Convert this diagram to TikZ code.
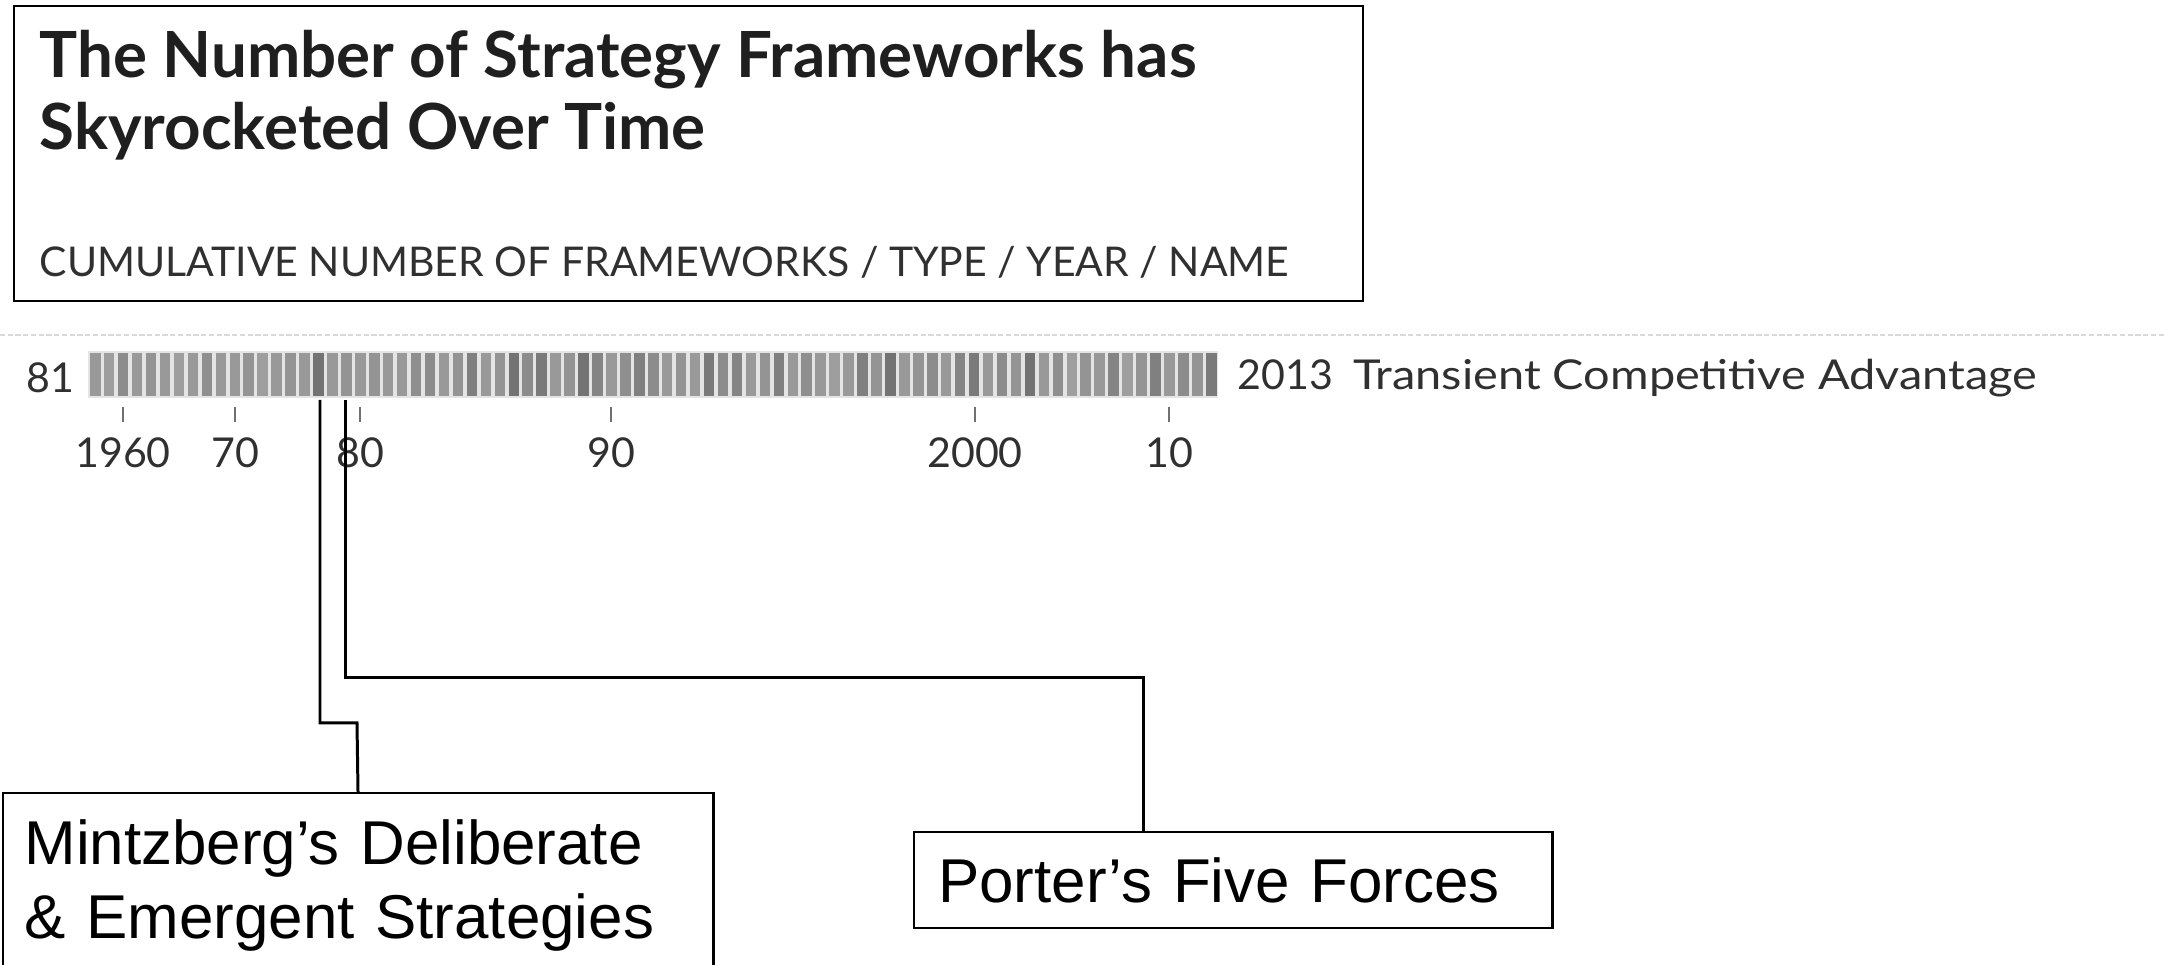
\documentclass[tikz,border=0pt]{standalone}
\usepackage{fontspec}
\setmainfont{Lato}
\newfontfamily\widefont[FakeStretch=1.14]{Lato}
\newfontfamily\boxfont{Liberation Sans}
\usetikzlibrary{positioning}
\definecolor{BarLight}{HTML}{E4E4E4}
\definecolor{RuleGray}{HTML}{D9D9D9}
\definecolor{InkGray}{HTML}{303030}
\definecolor{TickGray}{HTML}{707070}

\begin{document}
\begin{tikzpicture}[x=0.01cm,y=-0.01cm]
    \tikzstyle{frame}=[draw,line width=0.6pt,inner sep=0pt]
    \tikzstyle{txt}=[inner sep=0pt,text=InkGray]
    \tikzstyle{axis}=[txt,font=\fontsize{11.7}{12}\selectfont]
    \tikzstyle{callout}=[draw,line width=0.6pt,align=left,font=\boxfont\fontsize{17.6}{21.3}\selectfont]
    \tikzstyle{link}=[line width=0.85pt]
    \clip (0,0) rectangle (2164,965);
    % heading
    \node[frame,anchor=north west,minimum width=13.48cm,minimum height=2.95cm] (head) at (13,5) {};
    \node[txt,anchor=base west,text=black!88,font=\bfseries\fontsize{18.1}{18}\selectfont] (title1) at (39,78) {The Number of Strategy Frameworks has};
    \node[txt,anchor=base west,text=black!88,font=\bfseries\fontsize{18.1}{18}\selectfont] (title2) at (39,150) {Skyrocketed Over Time};
    \node[txt,anchor=base west,font=\fontsize{11.65}{12}\selectfont] (sub) at (39,277) {CUMULATIVE NUMBER OF FRAMEWORKS / TYPE / YEAR / NAME};
    \draw[RuleGray,line width=0.6pt,dash pattern=on 1.5pt off 0.7pt] (0,335) -- (2164,335);
    % strip of frameworks
    \fill[BarLight] (88,351) rectangle (1218,398);
    \foreach \g [count=\i from 0] in {40,38,45,40,42,40,38,40,44,
                                      40,40,42,38,40,42,40,55,40,
                                      42,40,42,40,40,44,45,40,42,
                                      50,40,42,55,45,52,40,42,55,
                                      48,40,44,50,45,40,42,40,52,
                                      45,48,40,42,50,40,44,40,38,
                                      40,50,42,55,40,42,45,40,48,
                                      52,40,45,42,55,40,44,38,42,
                                      40,48,38,42,50,40,45,42,52}
        \fill[black!\g] ({90+13.95*\i},353) rectangle ({100.5+13.95*\i},396);
    \node[axis,anchor=base east] (count) at (75,393) {81};
    \node[axis,anchor=base west] (last) at (1237,390) {2013\hspace{0.2cm}{\widefont Transient Competitive Advantage}};
    \foreach \x/\yr in {123/1960,235/70,360/80,611/90,975/2000,1169/10} {
        \draw[TickGray,line width=0.6pt] (\x,407) -- (\x,422);
        \node[axis,anchor=base] (yr\yr) at (\x,468) {\yr};
    }
    % callouts
    \node[callout,anchor=north west,text width=6.665cm,inner xsep=0.22cm,inner ysep=0.26cm,text height=0.45cm,text depth=1.3cm] (mintz) at (1.5,792) {Mintzberg’s Deliberate\\\& Emergent Strategies};
    \node[callout,anchor=north west,text width=5.9cm,inner xsep=0.24cm,inner ysep=0pt,minimum height=0.96cm] (porter) at (913,831) {Porter’s Five Forces};
    \coordinate (mstart) at (320,400);
    \coordinate (mjog) at (357,723);
    \coordinate (pstart) at (345,400);
    \coordinate (pjog) at (1143,678);
    \draw[link] (mstart) |- (mjog) -- (mintz.north);
    \draw[link] (pstart) |- (pjog) -- (pjog |- porter.north);
\end{tikzpicture}
\end{document}
